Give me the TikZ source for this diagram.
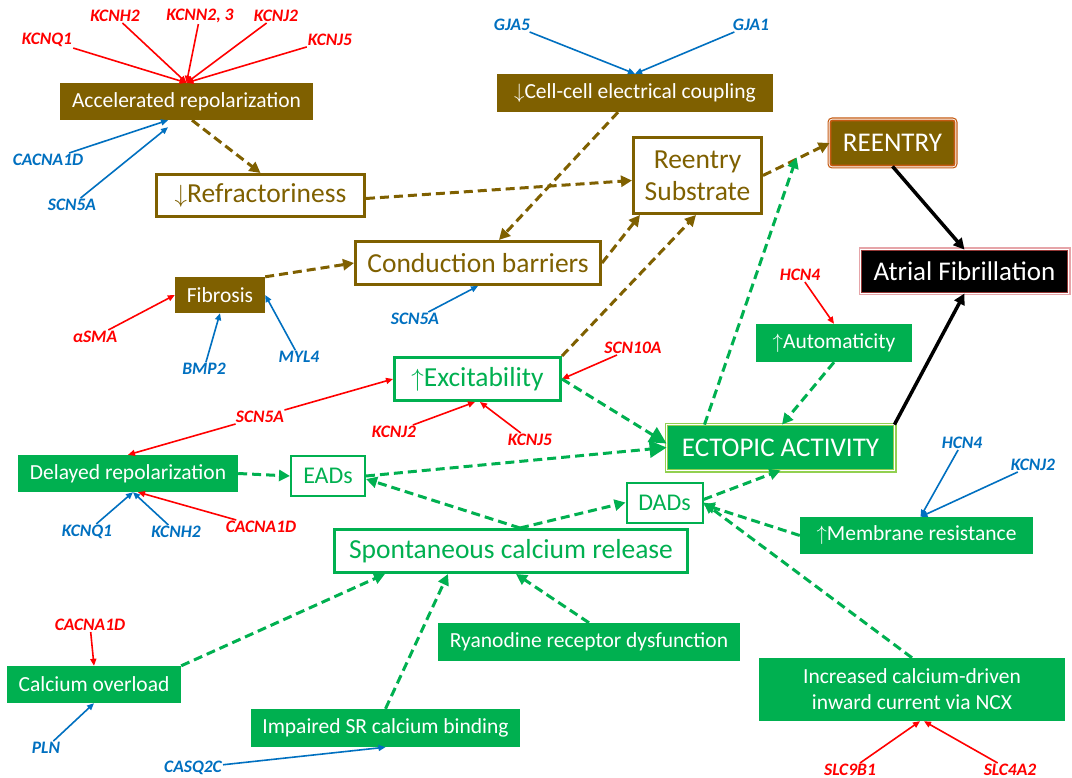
\documentclass[tikz,border=0pt]{standalone}
\usepackage{fontspec}
\setmainfont{Carlito}
\usetikzlibrary{arrows.meta}
\definecolor{afbrown}{HTML}{7F6000}
\definecolor{afgreen}{HTML}{00B050}
\definecolor{afred}{HTML}{FF0000}
\definecolor{afblue}{HTML}{0070C0}
\definecolor{reorange}{HTML}{C55A11}
\definecolor{afpink}{HTML}{E6A5A9}
\definecolor{afmaroon}{HTML}{953735}
\definecolor{ltgreen}{HTML}{92D050}
\newcommand{\fs}[2]{\fontsize{#1}{#2}\selectfont}
\tikzset{
	box/.style={inner sep=0pt, align=center},
	brownfill/.style={box, fill=afbrown, text=white, font=\fs{21.5}{26}},
	greenfill/.style={box, fill=afgreen, text=white, font=\fs{21.5}{26}},
	brownline/.style={box, draw=afbrown, fill=white, text=afbrown, line width=3pt, font=\fs{27.5}{32}},
	greenline/.style={box, draw=afgreen, fill=white, text=afgreen, line width=3pt, font=\fs{27.5}{32}},
	ring/.style 2 args={preaction={draw=#1, line width=6pt}, preaction={draw=white, line width=3.6pt}, draw=#2, line width=1.8pt},
	gene/.style={inner sep=1pt, font=\fs{17.5}{20}\bfseries\itshape},
	redgene/.style={gene, text=afred},
	bluegene/.style={gene, text=afblue},
	redarr/.style={afred, line width=1.6pt, -{Triangle[length=7pt,width=6pt]}},
	bluearr/.style={afblue, line width=1.6pt, -{Triangle[length=7pt,width=6pt]}},
	browndash/.style={afbrown, line width=3pt, dash pattern=on 9pt off 5pt, -{Triangle[length=11pt,width=11pt]}},
	greendash/.style={afgreen, line width=3pt, dash pattern=on 9pt off 5pt, -{Triangle[length=11pt,width=11pt]}},
	biggreen/.style={greendash, -{Triangle[length=17pt,width=17pt]}},
	blackarr/.style={black, line width=3.5pt, -{Triangle[length=11pt,width=11pt]}}
}
\begin{document}
\begin{tikzpicture}[x=1pt,y=-1pt]
		\fill[white] (0,0) rectangle (1072,778);
		\useasboundingbox (0,0) rectangle (1072,778);
		\node[brownfill, minimum width=253, minimum height=37] (acc) at (186.5,101.5) {Accelerated repolarization};
		\node[brownline, minimum width=208, minimum height=42] (refr) at (260.5,195.5) {$\downarrow$Refractoriness};
		\node[brownfill, minimum width=276, minimum height=38] (coup) at (635,93) {$\downarrow$Cell-cell electrical coupling};
		\node[brownline, minimum width=128, minimum height=76] (subs) at (697.5,175.5) {Reentry\\Substrate};
		\node[ring={reorange}{reorange}, fill=afbrown, text=white, box, font=\fs{27}{32}, rounded corners=2pt, minimum width=124, minimum height=45] (reen) at (892.5,143) {REENTRY};
		\node[ring={afpink}{afmaroon}, fill=black, text=white, box, font=\fs{27}{32}, minimum width=206, minimum height=42] (af) at (964.5,271.5) {Atrial Fibrillation};
		\node[brownline, minimum width=245, minimum height=43] (cond) at (478,263) {Conduction barriers};
		\node[brownfill, minimum width=90, minimum height=36] (fib) at (220,295) {Fibrosis};
		\node[greenline, minimum width=166, minimum height=43] (exc) at (477.5,379) {$\uparrow$Excitability};
		\node[greenfill, minimum width=220, minimum height=37] (delr) at (128,473.5) {Delayed repolarization};
		\node[greenline, line width=2pt, font=\fs{24}{28}, minimum width=74, minimum height=40] (eads) at (328,476) {EADs};
		\node[greenline, line width=2pt, font=\fs{24}{28}, minimum width=76, minimum height=40] (dads) at (664.5,502.5) {DADs};
		\node[ring={ltgreen}{ltgreen}, fill=afgreen, text=white, box, font=\fs{27}{32}, minimum width=226, minimum height=44] (ect) at (780.5,447.5) {ECTOPIC ACTIVITY};
		\node[greenfill, minimum width=156, minimum height=38] (auto) at (834,343) {$\uparrow$Automaticity};
		\node[greenfill, minimum width=233, minimum height=37] (memb) at (916.5,535.5) {$\uparrow$Membrane resistance};
		\node[greenline, minimum width=353, minimum height=43] (spon) at (511,551) {Spontaneous calcium release};
		\node[greenfill, minimum width=302, minimum height=38] (ryan) at (589,642) {Ryanodine receptor dysfunction};
		\node[greenfill, minimum width=174, minimum height=37] (calc) at (94,684.5) {Calcium overload};
		\node[greenfill, minimum width=269, minimum height=38] (impa) at (385.5,728) {Impaired SR calcium binding};
		\node[greenfill, minimum width=306, minimum height=63] (ncx) at (912,689.5) {Increased calcium-driven\\inward current via NCX};
		\node[redgene] (kq1) at (47,40) {KCNQ1};
		\node[redgene] (kh2) at (115,16) {KCNH2};
		\node[redgene] (kn23) at (200,16) {KCNN2, 3};
		\node[redgene] (kj2) at (276,16) {KCNJ2};
		\node[redgene] (kj5) at (330,40) {KCNJ5};
		\node[bluegene] (cac1) at (48,160) {CACNA1D};
		\node[bluegene] (scn1) at (72,205) {SCN5A};
		\node[bluegene] (gja5) at (512,25) {GJA5};
		\node[bluegene] (gja1) at (751,25) {GJA1};
		\node[redgene] (asma) at (95,337) {αSMA};
		\node[bluegene] (bmp2) at (204,369) {BMP2};
		\node[bluegene] (myl4) at (299,357) {MYL4};
		\node[bluegene] (scn2) at (415,319) {SCN5A};
		\node[redgene] (hcn1) at (800,275) {HCN4};
		\node[redgene] (scn10) at (633,348) {SCN10A};
		\node[redgene] (scn3) at (260,417) {SCN5A};
		\node[redgene] (kj2b) at (394,432) {KCNJ2};
		\node[redgene] (kj5b) at (530,440) {KCNJ5};
		\node[bluegene] (kq1b) at (87,532) {KCNQ1};
		\node[bluegene] (kh2b) at (176,532) {KCNH2};
		\node[redgene] (cac2) at (261,527) {CACNA1D};
		\node[bluegene] (hcn2) at (962,443) {HCN4};
		\node[bluegene] (kj2c) at (1033,465) {KCNJ2};
		\node[redgene] (cac3) at (90,625) {CACNA1D};
		\node[bluegene] (pln) at (46,748) {PLN};
		\node[bluegene] (casq) at (193,768) {CASQ2C};
		\node[redgene] (slc9) at (850,770) {SLC9B1};
		\node[redgene] (slc4) at (1010,770) {SLC4A2};
		\draw[redarr] (kq1) -- (acc.north);
		\draw[redarr] (kh2) -- (acc.north);
		\draw[redarr] (kn23) -- (acc.north);
		\draw[redarr] (kj2) -- (acc.north);
		\draw[redarr] (kj5) -- (acc.north);
		\draw[bluearr] (cac1) -- ([xshift=-18.5]acc.south);
		\draw[bluearr] (scn1) -- ([xshift=-18.5,yshift=-7]acc.south);
		\draw[bluearr] (gja5) -- (coup.north);
		\draw[bluearr] (gja1) -- (coup.north);
		\draw[redarr] (asma) -- (fib.west);
		\draw[bluearr] (bmp2) -- (fib.south);
		\draw[bluearr] (myl4) -- (fib.east);
		\draw[bluearr] (scn2) -- (cond.south);
		\draw[redarr] (hcn1) -- (auto.north);
		\draw[redarr] (scn10) -- (exc.east);
		\draw[redarr] (scn3) -- (exc.west);
		\draw[redarr] (scn3) -- (delr.north);
		\draw[redarr] (kj2b) -- ([xshift=-2.5]exc.south);
		\draw[redarr] (kj5b) -- ([xshift=2.5]exc.south);
		\draw[bluearr] (kq1b) -- ([xshift=5]delr.south);
		\draw[bluearr] (kh2b) -- ([xshift=5]delr.south);
		\draw[redarr] (cac2) -- ([xshift=10]delr.south);
		\draw[bluearr] (hcn2) -- ([xshift=4]memb.north);
		\draw[bluearr] (kj2c) -- ([xshift=4]memb.north);
		\draw[redarr] (cac3) -- (calc.north);
		\draw[bluearr] (pln) -- (calc.south);
		\draw[bluearr] (casq) -- (impa.south);
		\draw[redarr] (slc9) -- ([xshift=8]ncx.south);
		\draw[redarr] (slc4) -- ([xshift=12]ncx.south);
		\draw[browndash] ([xshift=5.5]acc.south) -- (refr.north);
		\draw[browndash] ([yshift=-3]refr.east) -- ([yshift=-5]subs.west);
		\draw[browndash] ([xshift=-17]coup.south) -- ([xshift=21]cond.north);
		\draw[browndash] (cond.east) -- ([xshift=-57.5]subs.south);
		\draw[browndash] (exc.north east) -- ([xshift=-1.5]subs.south);
		\draw[browndash] (fib.north east) -- (cond.west);
		\draw[browndash] (subs.east) -- (reen.west);
		\draw[greendash] ([xshift=-76]ect.north) -- ([xshift=-33,yshift=9]reen.south west);
		\draw[blackarr] (reen.south) -- (af.north);
		\draw[blackarr] (ect.north east) -- (af.south);
		\draw[greendash] (auto.south) -- ([xshift=1.5]ect.north);
		\draw[biggreen] (exc.east) -- ([yshift=4]ect.west);
		\draw[greendash] (delr.east) -- (eads.west);
		\draw[biggreen] (eads.east) -- (ect.west);
		\draw[greendash] ([yshift=3]dads.east) -- (ect.south);
		\draw[greendash] (memb.west) -- ([yshift=-2]dads.east);
		\draw[greendash] (ncx.north) -- (dads.east);
		\draw[greendash] ([xshift=9]spon.north) -- ([yshift=-3]eads.east);
		\draw[greendash] ([xshift=9]spon.north) -- (dads.west);
		\draw[greendash] (calc.north east) -- ([xshift=-126]spon.south);
		\draw[greendash] (impa.north) -- ([xshift=-63]spon.south);
		\draw[greendash] (ryan.north) -- ([xshift=5]spon.south);
\end{tikzpicture}
\end{document}
